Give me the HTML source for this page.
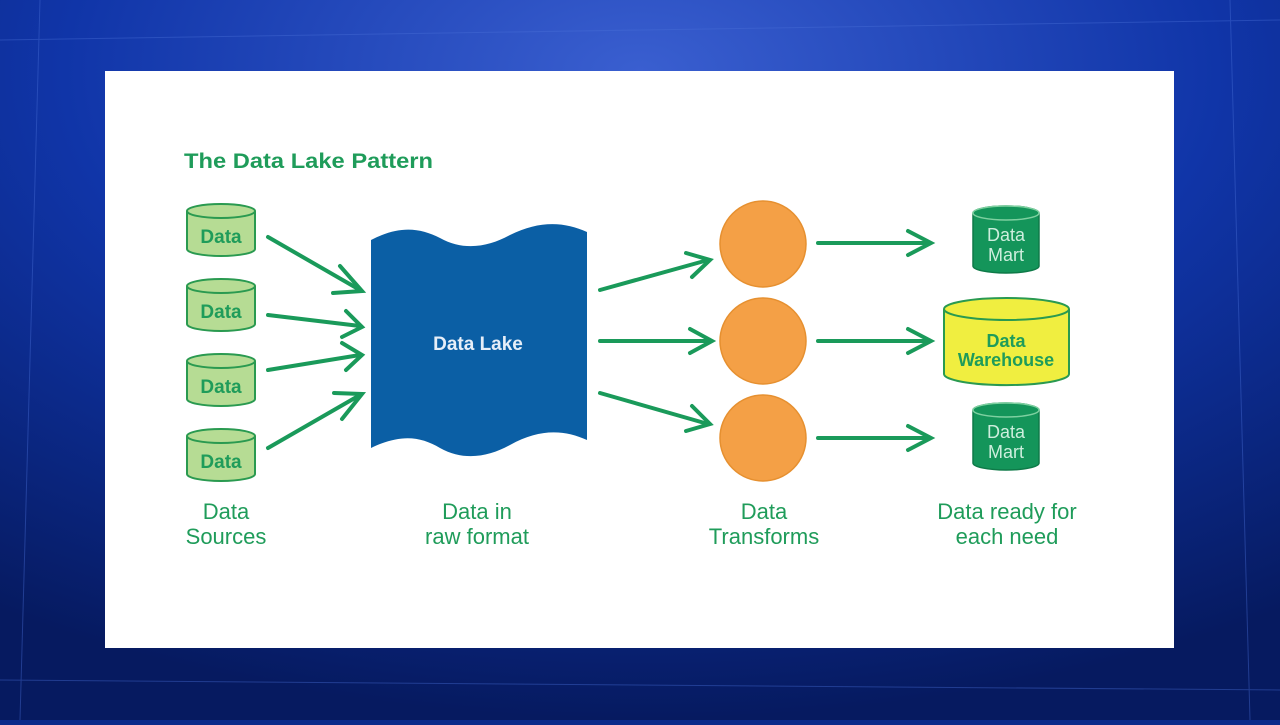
<!DOCTYPE html>
<html><head><style>
body{margin:0;width:1280px;height:720px;overflow:hidden;background:#0a2a8a;}
</style></head><body>
<svg width="1280" height="720" viewBox="0 0 1280 720" xmlns="http://www.w3.org/2000/svg" font-family="Liberation Sans, sans-serif" font-weight="bold">
<defs>
<radialGradient id="bg" cx="0.5" cy="0.1" r="0.9">
<stop offset="0" stop-color="#3a5fd0"/><stop offset="0.5" stop-color="#1035a8"/><stop offset="1" stop-color="#061a60"/>
</radialGradient>
</defs>
<rect width="1280" height="720" fill="url(#bg)"/>
<g stroke="#4a70d8" stroke-width="1" opacity="0.4">
<line x1="0" y1="40" x2="1280" y2="20"/><line x1="0" y1="680" x2="1280" y2="690"/>
<line x1="40" y1="0" x2="20" y2="720"/><line x1="1230" y1="0" x2="1250" y2="720"/>
</g>
<rect x="105" y="71" width="1069" height="577" fill="#ffffff"/>
<text x="184" y="168" font-size="21" fill="#1f9c5a" textLength="249" lengthAdjust="spacingAndGlyphs">The Data Lake Pattern</text>
<g fill="#b6dc94" stroke="#2a9a50" stroke-width="2">
<g id="c"><path d="M187 211 v38 a34 7 0 0 0 68 0 v-38"/><ellipse cx="221" cy="211" rx="34" ry="7"/></g>
<use href="#c" y="75"/><use href="#c" y="150"/><use href="#c" y="225"/>
</g>
<g font-size="19" fill="#1f9c5a" text-anchor="middle">
<text x="221" y="243">Data</text><text x="221" y="318">Data</text><text x="221" y="393">Data</text><text x="221" y="468">Data</text>
</g>
<path d="M371 240 C400 225 420 228 440 238 C465 252 490 246 510 235 C540 220 565 222 587 232 L587 440 C565 430 540 428 510 445 C490 456 465 462 440 448 C420 436 400 434 371 448 Z" fill="#0b5fa5"/>
<text x="478" y="350" font-size="19" fill="#e6eef8" text-anchor="middle">Data Lake</text>
<g stroke="#1a9a5a" stroke-width="4" fill="none" stroke-linecap="round">
<line x1="268" y1="237" x2="360" y2="290"/><path d="M340 266 L362 291 L333 293"/>
<line x1="268" y1="315" x2="360" y2="326"/><path d="M346 311 L362 327 L342 337"/>
<line x1="268" y1="370" x2="360" y2="355"/><path d="M342 343 L362 355 L346 370"/>
<line x1="268" y1="448" x2="360" y2="395"/><path d="M334 393 L362 394 L342 419"/>
<line x1="600" y1="290" x2="708" y2="260"/><path d="M686 253 L710 260 L692 277"/>
<line x1="600" y1="341" x2="710" y2="341"/><path d="M690 329 L712 341 L690 353"/>
<line x1="600" y1="393" x2="708" y2="424"/><path d="M692 406 L710 424 L686 431"/>
<line x1="818" y1="243" x2="930" y2="243"/><path d="M908 231 L931 243 L908 255"/>
<line x1="818" y1="341" x2="930" y2="341"/><path d="M908 329 L931 341 L908 353"/>
<line x1="818" y1="438" x2="930" y2="438"/><path d="M908 426 L931 438 L908 450"/>
</g>
<g fill="#f4a046" stroke="#e69030" stroke-width="1.5">
<circle cx="763" cy="244" r="43"/><circle cx="763" cy="341" r="43"/><circle cx="763" cy="438" r="43"/>
</g>
<g fill="#14955a" stroke="#0e7a48" stroke-width="1.5">
<path d="M973 213 v53 a33 7 0 0 0 66 0 v-53 a33 7 0 0 0 -66 0z"/>
<ellipse cx="1006" cy="213" rx="33" ry="7" stroke="#7ed0a0"/>
<path d="M973 410 v53 a33 7 0 0 0 66 0 v-53 a33 7 0 0 0 -66 0z"/>
<ellipse cx="1006" cy="410" rx="33" ry="7" stroke="#7ed0a0"/>
</g>
<g font-size="18" fill="#cdeedd" text-anchor="middle" font-weight="normal">
<text x="1006" y="241">Data</text><text x="1006" y="261">Mart</text>
<text x="1006" y="438">Data</text><text x="1006" y="458">Mart</text>
</g>
<g fill="#f0ee40" stroke="#2a9a50" stroke-width="2">
<path d="M944 309 v65 a62 11 0 0 0 125 0 v-65"/><ellipse cx="1006.5" cy="309" rx="62.5" ry="11"/>
</g>
<g font-size="18" fill="#1f9c5a" text-anchor="middle">
<text x="1006" y="347">Data</text><text x="1006" y="366">Warehouse</text>
</g>
<g font-size="22" fill="#1f9c5a" text-anchor="middle" font-weight="normal">
<text x="226" y="519">Data</text><text x="226" y="544">Sources</text>
<text x="477" y="519">Data in</text><text x="477" y="544">raw format</text>
<text x="764" y="519">Data</text><text x="764" y="544">Transforms</text>
<text x="1007" y="519">Data ready for</text><text x="1007" y="544">each need</text>
</g>
</svg>
</body></html>
